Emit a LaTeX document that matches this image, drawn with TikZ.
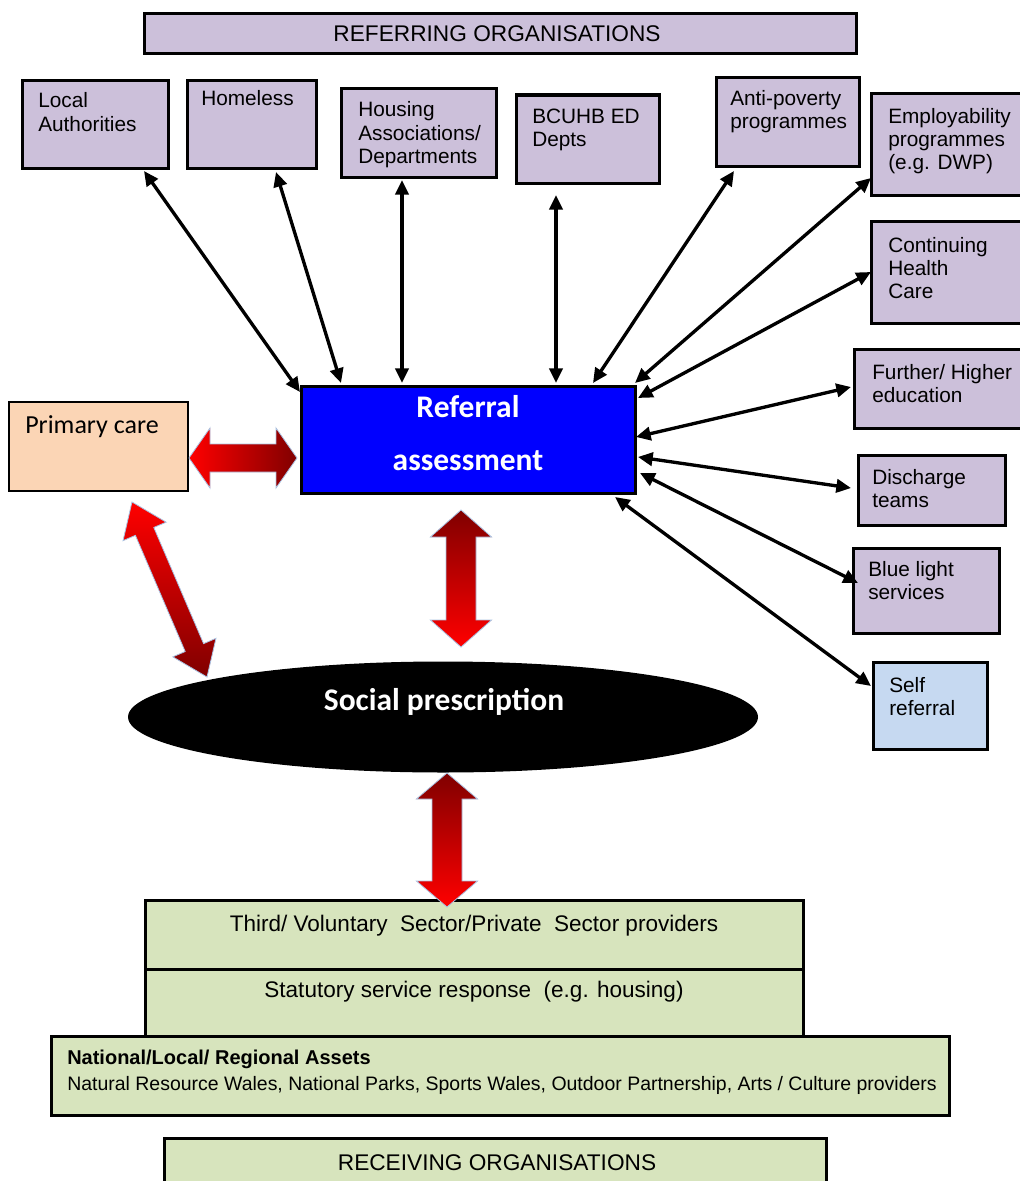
\documentclass[tikz,border=0pt]{standalone}
\usepackage{fontspec}
\setmainfont{Liberation Sans}
\newfontfamily\calib{Carlito}
\usetikzlibrary{arrows.meta,calc,shapes.geometric}
\definecolor{lav}{HTML}{CCC0DA}
\definecolor{peach}{HTML}{FBD5B5}
\definecolor{skyb}{HTML}{C6D9F1}
\definecolor{sage}{HTML}{D7E4BD}
\definecolor{dred}{HTML}{800000}
\definecolor{halo}{HTML}{A9C2E2}
\newcommand\lines[1]{\begin{tabular}[t]{@{}l@{}}#1\end{tabular}}
\newcommand\bx[6][]{\node[#2,#1,minimum width={(#5-#3)*0.75pt},minimum height={(#6-#4)*0.75pt}] at ({(#3+#5)/2},{(#4+#6)/2}) {};}
\newcommand\fatarrow[6]{%
\path[#6, draw=halo, line width=0.6pt, line join=miter]
 (#1) -- ($(#1)!#3!(#2)!#4!90:(#2)$) -- ($(#1)!#3!(#2)!#5!90:(#2)$)
 -- ($(#2)!#3!(#1)!#5!-90:(#1)$) -- ($(#2)!#3!(#1)!#4!-90:(#1)$) -- (#2)
 -- ($(#2)!#3!(#1)!#4!90:(#1)$) -- ($(#2)!#3!(#1)!#5!90:(#1)$)
 -- ($(#1)!#3!(#2)!#5!-90:(#2)$) -- ($(#1)!#3!(#2)!#4!-90:(#2)$) -- cycle;}
\begin{document}
\begin{tikzpicture}[x=0.75pt,y=-0.75pt,
  boxbase/.style={rectangle,inner sep=0pt,line width=2.25pt},
  pbox/.style={boxbase,draw=black,fill=lav},
  popen/.style={boxbase,fill=lav},
  gbox/.style={boxbase,draw=black,fill=sage},
  txt/.style={anchor=base west,inner sep=0pt,font=\fontsize{15.6pt}{17.6pt}\selectfont},
  ttl/.style={anchor=base,inner sep=0pt,font=\fontsize{17pt}{20pt}\selectfont},
  btxt/.style={anchor=base,inner sep=0pt,font=\fontsize{16.9pt}{20pt}\selectfont},
  ntxt/.style={anchor=base west,inner sep=0pt,font=\fontsize{14.6pt}{17pt}\selectfont},
  wtxt/.style={anchor=base,inner sep=0pt,text=white,font=\calib\bfseries\fontsize{23.6pt}{28pt}\selectfont},
  conn/.style={line width=2.5pt,{Triangle[length=11pt,width=10pt]}-{Triangle[length=11pt,width=10pt]}}
]
\useasboundingbox (0,0) rectangle (1020,1181);
\fill[white] (0,0) rectangle (1020,1181);

% title boxes
\bx[name=reftitle]{pbox}{144}{14}{856}{54}
\node[ttl] (treft) at (497,42) {REFERRING ORGANISATIONS};

% referring boxes
\bx[name=la]{pbox}{22}{81}{168}{168}
\bx[name=hom]{pbox}{187}{81}{316}{168}
\bx[name=hou]{pbox}{341}{89}{496}{177}
\bx[name=bcu]{pbox}{516}{95}{659}{183}
\bx[name=anti]{pbox}{716}{78}{859}{166}
\bx[name=emp]{popen}{873}{95}{1020}{194}
\bx[name=cont]{popen}{873}{223}{1020}{322}
\bx[name=fur]{popen}{856}{351}{1020}{427}
\bx[name=dis]{pbox}{858}{455}{1005}{525}
\bx[name=blue]{pbox}{853}{548}{999}{633}
\bx[name=self]{pbox,fill=skyb}{873}{662}{987}{749}
\foreach \n in {emp,cont,fur}
  \draw[line width=2.25pt] (\n.north east) -- (\n.north west) -- (\n.south west) -- (\n.south east);

\node[txt] (tla) at (38,108) {\lines{Local\\Authorities}};
\node[txt] (thom) at (201,105) {Homeless};
\node[txt] (thou) at (358,117) {\lines{Housing\\Associations/\\Departments}};
\node[txt] (tbcu) at (532,123) {\lines{BCUHB ED\\Depts}};
\node[txt] (tanti) at (730,105) {\lines{Anti-poverty\\programmes}};
\node[txt] (temp) at (888,123) {\lines{Employability\\programmes\\(e.g. DWP)}};
\node[txt] (tcont) at (888,252) {\lines{Continuing\\Health\\Care}};
\node[txt] (tfur) at (872,379) {\lines{Further/ Higher\\education}};
\node[txt] (tdis) at (872,484) {\lines{Discharge\\teams}};
\node[txt] (tblue) at (868,576) {\lines{Blue light\\services}};
\node[txt] (tself) at (889,692) {\lines{Self\\referral}};

% referral and primary care
\bx[name=ref]{boxbase,draw=black,fill=blue}{301}{386}{635}{493}
\node[wtxt] (tref1) at (468,417) {Referral};
\node[wtxt] (tref2) at (468,470) {assessment};
\bx[name=prim]{boxbase,draw=black,fill=peach,line width=1.9pt}{9}{402}{188}{491}
\node[anchor=base west,inner sep=0pt,font=\calib\fontsize{19.5pt}{23pt}\selectfont] (tprim) at (25,433) {Primary care};

% social prescription
\node[ellipse,fill=black,inner sep=0pt,minimum width=472.5pt,minimum height=83.25pt] (soc) at (443,717) {};
\node[wtxt] (tsoc) at (444,710) {Social prescription};

% receiving boxes
\bx[name=third]{gbox}{145}{900}{803}{969}
\bx[name=stat]{gbox}{145}{969}{803}{1036}
\bx[name=nat]{gbox}{51}{1036}{949}{1115}
\bx[name=recv]{boxbase,fill=sage}{166}{1140}{825}{1181}
\draw[line width=2.25pt] (recv.south west) -- (recv.north west) -- (recv.north east) -- (recv.south east);
\node[btxt] (tthird) at (474,931) {Third/ Voluntary\ \ Sector/Private\ \ Sector providers};
\node[btxt] (tstat) at (474,997) {Statutory service response\ \ (e.g. housing)};
\node[ntxt,font=\bfseries\fontsize{15pt}{17pt}\selectfont] (tnat1) at (67,1064) {National/Local/ Regional Assets};
\node[ntxt] (tnat2) at (67,1090) {Natural Resource Wales, National Parks, Sports Wales, Outdoor Partnership, Arts / Culture providers};
\node[ttl] (trecv) at (497,1170) {RECEIVING ORGANISATIONS};

% black connectors
\coordinate (a1) at (144,171); \coordinate (b1) at (300,392);
\coordinate (a2) at (276,172); \coordinate (b2) at (341,383);
\coordinate (a3) at (402,180); \coordinate (b3) at (402,383);
\coordinate (a4) at (556,195); \coordinate (b4) at (556,383);
\coordinate (a5) at (734,171); \coordinate (b5) at (593,383);
\coordinate (a6) at (871,178); \coordinate (b6) at (635,383);
\coordinate (a7) at (871,272); \coordinate (b7) at (638,398);
\coordinate (a8) at (851,387); \coordinate (b8) at (636,437);
\coordinate (a9) at (851,488); \coordinate (b9) at (638,457);
\coordinate (a10) at (858,583); \coordinate (b10) at (640,473);
\coordinate (a11) at (871,686); \coordinate (b11) at (615,497);
\foreach \i in {1,...,11} \draw[conn] (a\i) -- (b\i);

% fat red arrows
\coordinate (h1) at (189,458); \coordinate (h2) at (297,458);
\fatarrow{h1}{h2}{15.75pt}{22.5pt}{10.5pt}{left color=red,right color=dred}
\coordinate (v1) at (461,510); \coordinate (v2) at (461,647);
\fatarrow{v1}{v2}{20.25pt}{22.9pt}{11.25pt}{top color=dred,bottom color=red}
\coordinate (d1) at (132,502); \coordinate (d2) at (207,677);
\fatarrow{d1}{d2}{24pt}{17.6pt}{7.5pt}{top color=red,bottom color=dred}
\coordinate (w1) at (447,773); \coordinate (w2) at (447,907);
\fatarrow{w1}{w2}{19.5pt}{22.9pt}{11.25pt}{top color=dred,bottom color=red}
\end{tikzpicture}
\end{document}
